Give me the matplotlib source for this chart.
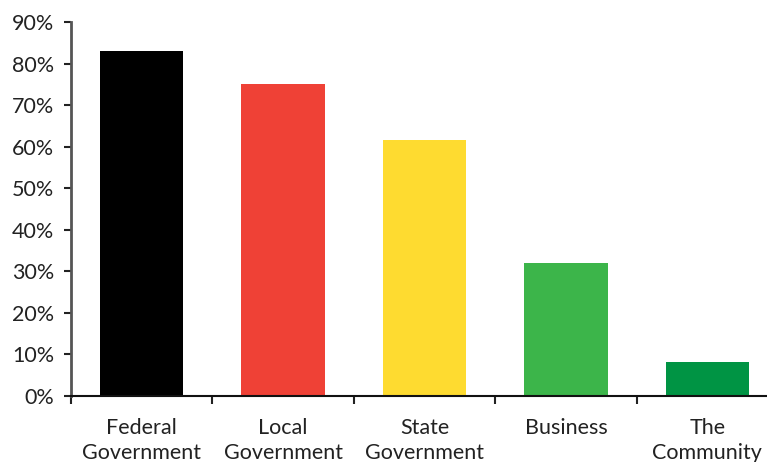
import matplotlib
matplotlib.use("Agg")
import matplotlib.pyplot as plt
import numpy as np

categories = ["Federal\nGovernment", "Local\nGovernment", "State\nGovernment", "Business", "The\nCommunity"]
values = [83, 75, 61.5, 32, 8.2]
colors = ["#000000", "#EF4136", "#FEDB30", "#3CB54A", "#009444"]
yticks = [0, 10, 20, 30, 40, 50, 60, 70, 80, 90]

plt.rcParams["font.family"] = ["Lato", "DejaVu Sans"]

fig = plt.figure(figsize=(7.67, 4.62), dpi=100)
ax = fig.add_axes([71 / 767, 66 / 462, 707 / 767, 374 / 462])

x = np.arange(len(categories))
ax.bar(x, values, width=0.59, color=colors)

ax.set_xlim(-0.5, len(categories) - 0.5)
ax.set_ylim(0, 90)
ax.set_yticks(yticks)
ax.set_yticklabels([f"{v}%" for v in yticks])
ax.set_xticks(x)
ax.set_xticklabels(categories, linespacing=1.3)
ax.set_xticks(np.arange(len(categories) + 1) - 0.5, minor=True)

ax.tick_params(axis="y", length=5, width=1.5, pad=7, labelsize=15.5, colors="#222222")
ax.tick_params(axis="x", which="major", length=0, pad=16, labelsize=15.5, colors="#222222")
ax.tick_params(axis="x", which="minor", length=6, width=1.5, color="#222222")

for side in ("top", "right"):
    ax.spines[side].set_visible(False)
ax.spines["left"].set_color("#555555")
ax.spines["left"].set_linewidth(2)
ax.spines["bottom"].set_color("#111111")
ax.spines["bottom"].set_linewidth(1.5)

fig.savefig("out.png", dpi=100)
